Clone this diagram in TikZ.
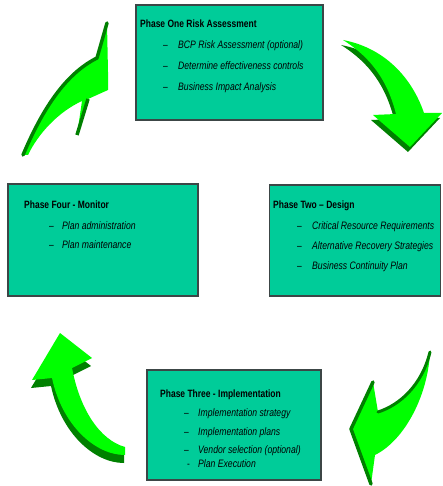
\documentclass[tikz,border=0pt]{standalone}
\usepackage{fontspec}
\newfontfamily\nar[FakeStretch=0.8]{Liberation Sans}
\definecolor{boxfill}{RGB}{0,204,153}
\definecolor{boxline}{RGB}{60,70,70}
\definecolor{lgreen}{RGB}{0,255,0}
\definecolor{dgreen}{RGB}{0,128,0}
\tikzset{
  phasebox/.style={draw=boxline, line width=1.2pt, fill=boxfill, inner sep=0pt},
  ttl/.style={anchor=base west, inner sep=0pt, font=\nar\fontsize{10.6}{12}\selectfont\bfseries},
  itm/.style={anchor=base west, inner sep=0pt, font=\nar\fontsize{10.8}{12}\selectfont\itshape},
  dsh/.style={anchor=base west, inner sep=0pt, font=\nar\fontsize{10.6}{12}\selectfont},
  lightpart/.style={fill=lgreen},
  darkpart/.style={fill=dgreen},
  darkline/.style={draw=dgreen, line width=3.5pt, line join=round}
}
\begin{document}
\begin{tikzpicture}[x=1pt,y=-1pt]
\useasboundingbox (0,0) rectangle (442,486);
% ---------------- boxes
\node[phasebox, minimum width=187pt, minimum height=115pt] (p1) at (229.5,62.5) {};
\node[phasebox, minimum width=190pt, minimum height=112pt] (p4) at (103,240) {};
\node[phasebox, minimum width=171pt, minimum height=111pt] (p2) at (355,240.5) {};
\node[phasebox, minimum width=174pt, minimum height=110pt] (p3) at (234,425) {};
% ---------------- box 1 text
\node[ttl] (t1) at (140,28) {Phase One Risk Assessment};
\node[dsh] (d11) at (163,49) {–};
\node[itm] (i11) at (178,49) {BCP Risk Assessment (optional)};
\node[dsh] (d12) at (163,70) {–};
\node[itm] (i12) at (178,70) {Determine effectiveness controls};
\node[dsh] (d13) at (163,91) {–};
\node[itm] (i13) at (178,91) {Business Impact Analysis};
% ---------------- box 4 text
\node[ttl] (t4) at (24,208) {Phase Four - Monitor};
\node[dsh] (d41) at (49,229) {–};
\node[itm] (i41) at (62,229) {Plan administration};
\node[dsh] (d42) at (49,248) {–};
\node[itm] (i42) at (62,248) {Plan maintenance};
% ---------------- box 2 text
\node[ttl] (t2) at (273,208) {Phase Two – Design};
\node[dsh] (d21) at (297,229) {–};
\node[itm] (i21) at (312,229) {Critical Resource Requirements};
\node[dsh] (d22) at (297,249) {–};
\node[itm] (i22) at (312,249) {Alternative Recovery Strategies};
\node[dsh] (d23) at (297,269) {–};
\node[itm] (i23) at (312,269) {Business Continuity Plan};
% ---------------- box 3 text
\node[ttl] (t3) at (160,397) {Phase Three - Implementation};
\node[dsh] (d31) at (184,416) {–};
\node[itm] (i31) at (198,416) {Implementation strategy};
\node[dsh] (d32) at (184,435) {–};
\node[itm] (i32) at (198,435) {Implementation plans};
\node[dsh] (d33) at (184,453) {–};
\node[itm] (i33) at (198,453) {Vendor selection (optional)};
\node[dsh] (d34) at (187,467) {-};
\node[itm] (i34) at (198,467) {Plan Execution};
% ---------------- arrow top-left (flat swoosh)
\fill[lightpart] (23,155) .. controls (42,110) and (65,74) .. (97,58) -- (107,23)
  -- (108,72) -- (108,90) -- (88,99) -- (77,135) -- (82,101)
  .. controls (58,112) and (38,134) .. (28,155) -- cycle;
\draw[darkline, line cap=round] (23,155) .. controls (42,110) and (65,74) .. (97,58) -- (107,23);
\draw[darkline] (88,99) -- (77,135);
% ---------------- arrow top-right (3D)
\fill[darkpart, shift={(-2,5)}] (343,40) .. controls (385,48) and (412,78) .. (424,113)
  -- (442,113) -- (410,147) -- (373,115) -- (396,114)
  .. controls (388,82) and (372,58) .. (343,40) -- cycle;
\fill[lightpart] (343,40) .. controls (385,48) and (412,78) .. (424,113)
  -- (442,113) -- (410,147) -- (373,115) -- (396,114)
  .. controls (388,82) and (372,58) .. (343,40) -- cycle;
% ---------------- arrow bottom-left (3D)
\fill[darkpart, shift={(-1,8)}] (60,333) -- (92,358) -- (72,368)
  .. controls (80,410) and (100,440) .. (125,447) -- (125,455)
  .. controls (95,455) and (62,425) .. (52,378) -- (32,380) -- cycle;
\fill[lightpart] (60,333) -- (92,358) -- (72,368)
  .. controls (80,410) and (100,440) .. (125,447) -- (125,455)
  .. controls (95,455) and (62,425) .. (52,378) -- (32,380) -- cycle;
% ---------------- arrow bottom-right (flat swoosh)
\fill[lightpart] (430,352) .. controls (428,395) and (405,440) .. (375,455)
  -- (371,484) -- (351,429) -- (373,382) -- (378,412)
  .. controls (400,405) and (422,385) .. (430,352) -- cycle;
\draw[darkline, line cap=round] (371,484) -- (351,429) -- (373,382);
\draw[darkline, line width=3pt, line cap=round] (378,412) .. controls (400,405) and (422,385) .. (430,352);
\end{tikzpicture}
\end{document}
